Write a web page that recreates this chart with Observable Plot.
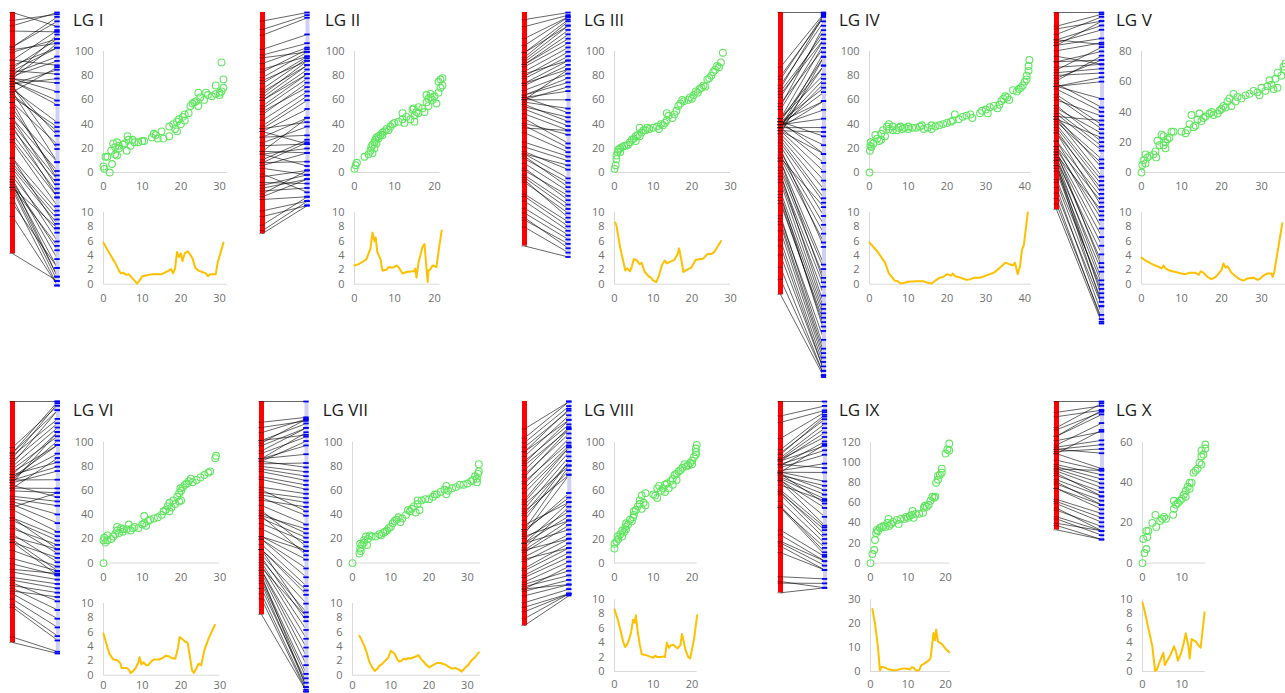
<!DOCTYPE html>
<html><head><meta charset="utf-8">
<script src="https://cdn.jsdelivr.net/npm/d3@7"></script>
<script src="https://cdn.jsdelivr.net/npm/@observablehq/plot@0.6"></script>
<style>
html,body{margin:0;padding:0;background:#fff;width:1285px;height:693px;overflow:hidden;}
#root{position:relative;width:1285px;height:693px;font-family:"Open Sans",sans-serif;overflow:hidden;}
.title{position:absolute;font-size:17px;line-height:17px;color:#1a1a1a;white-space:nowrap;}
</style></head><body><div id="root"></div>
<script>
// ---------- DATA: [genetic position (cM), physical position (Mb)] ----------
const mapI = [[0,5],[0.2,3],[0.5,13],[1,13],[1.6,0],[2.2,7],[2,18],[2.5,24],[3,21],[3,15],[3.5,14],[3.5,25],[4,20],[4,22],[5,23],[5.5,24],[6,18],[6.2,30],[6.5,27],[7,22],[7.5,27],[8,25],[9,25],[10,26],[10.5,26],[12.5,29],[13,32],[13.5,31],[14,28],[15,34],[15.5,28],[17,30],[17,38],[18,40],[18.5,36],[19,34],[19,42],[19.5,44],[20,40],[20.5,46],[21,48],[21,43],[22,49],[22.5,55],[23,57],[23.5,58],[24,59],[24.5,55],[24.5,66],[25,62],[26,60],[26.5,66],[27,64],[28,63],[29,65],[29,72],[30,64],[30,66],[30.5,67],[30.5,91],[31,77],[31,70]];
const mapII = [[0,3],[0.3,6],[0.6,8],[2.5,13],[3.5,15],[4,18],[4.2,21],[4.5,16],[4.5,23],[5,25],[5,20],[5.2,27],[5.5,24],[5.5,29],[6,28],[6,30],[6.5,31],[7,31],[7,33],[7.5,34],[8,36],[8.5,35],[9,38],[9.5,40],[10,41],[11,42],[12,44],[12,49],[12.5,41],[13,46],[14,44],[14.5,52],[14.8,53],[15,47],[15,42],[15.5,50],[16,54],[16,49],[17,53],[17.5,50],[18,64],[18,58],[18.5,61],[18.5,55],[19,65],[19,62],[19.5,60],[20,63],[20.5,57],[21,66],[21,75],[21.5,77],[21.5,70],[22,72],[22,78]];
const mapIII = [[0,3],[0.3,6],[0.5,11],[0.5,14],[0.8,17],[1,19],[1.5,17],[1.5,20],[2,21],[2.5,22],[3,22],[3.5,23],[4,25],[4.5,27],[5,28],[5.5,30],[5.5,26],[6,31],[6.5,37],[6.5,30],[7,33],[7.5,35],[8,35],[8.5,37],[9,36],[10,37],[11,38],[11.5,36],[12,40],[12.5,39],[13,41],[13.5,49],[13.5,43],[14,47],[15,45],[15.5,48],[16,51],[16.5,55],[17,57],[17.5,60],[18,59],[19,60],[19.5,62],[20,61],[20.5,64],[21,67],[21.5,66],[22,69],[22.5,70],[23,72],[23.5,71],[24,77],[24.5,78],[25,80],[25.5,83],[26,85],[26.5,88],[27,87],[27.5,91],[28,99]];
const mapIV = [[0,0],[0.1,18],[0.2,22],[0.3,25],[0.5,21],[1,24],[1.5,31],[2,28],[2.5,26],[3,32],[3,27],[3.5,35],[4,30],[4.5,38],[5,40],[5,36],[6,38],[6,35],[7,35],[7.5,37],[8,38],[8.5,36],[9,37],[10,36],[10,38],[11,37],[12,37],[13,38],[13.5,39],[14,36],[15,37],[16,39],[16,36],[17,38],[18,39],[19,40],[20,41],[21,42],[21.5,43],[22,48],[23,44],[24,46],[25,47],[26,48],[26.5,45],[28.5,49],[29,51],[30,52],[30.5,49],[31,54],[32,55],[33,53],[33.5,56],[34,59],[34.5,61],[35,63],[35.5,62],[36,60],[37,68],[38,67],[38.5,69],[39,70],[39.5,72],[40,75],[40.5,77],[40.5,80],[41,84],[41,88],[41.2,93]];
const mapV = [[0,0],[0.2,5],[0.5,8],[1,12],[1,6],[1.5,10],[2,11],[3,12],[3.5,14],[3.7,10],[4,21],[4.5,18],[5,25],[5.5,24],[5.5,18],[6,20],[6,16],[6.5,22],[7,23],[7.5,27],[8,27],[10,27],[11,26],[11.5,28],[12,32],[12.5,38],[13,30],[13.5,31],[14,35],[14.5,39],[15,34],[15.5,36],[16,37],[17,39],[17.5,40],[18,38],[19,39],[19.5,41],[20,42],[20.5,44],[21,43],[21.5,47],[22,49],[22.5,44],[23,52],[23.5,47],[24,50],[25,49],[26,51],[27,52],[28,54],[29,53],[29.5,51],[30,56],[31,54],[31.5,57],[32,61],[32.5,58],[33,55],[33.5,62],[34,66],[34,56],[35,64],[35.8,68],[35.5,70],[36,72]];
const mapVI = [[0,0],[0,19],[0.2,21],[0.5,17],[1,19],[1,23],[2,20],[2.5,22],[3,24],[3.5,30],[3.5,27],[4,25],[4.5,29],[5,26],[5,28],[6,28],[6.5,32],[7,27],[7.5,29],[8,30],[9,29],[10,32],[10.5,39],[10.5,33],[11,31],[11.5,35],[12,36],[13,37],[14,38],[15,40],[15.5,43],[16,44],[16.5,47],[17,50],[17,43],[17.5,46],[18,52],[18.5,49],[19,55],[19.5,51],[19.5,58],[19.8,62],[20,60],[20,52],[20.5,63],[21,65],[21.5,66],[22,68],[22.5,70],[23,67],[24,69],[25,71],[26,73],[27,75],[27.5,76],[28.8,87],[29,89]];
const mapVII = [[0,0],[1.8,8],[2,12],[2,16],[2.2,10],[2.5,15],[3,17],[3,19],[3.5,22],[3.8,15],[4,20],[4.5,23],[5,22],[6,22],[7,24],[7.5,23],[8,25],[8.5,26],[9,27],[9.5,29],[10,30],[10.5,33],[11,35],[11.5,36],[12,38],[12.5,34],[13,37],[14,40],[14.5,44],[15,43],[15.5,45],[16,47],[16.5,42],[17,49],[17,52],[17.5,44],[18,52],[19,53],[20,53],[21,55],[21.5,57],[22,57],[23,59],[24,61],[24.5,64],[24.5,57],[25,60],[26,62],[27,63],[28,65],[29,65],[30,66],[31,68],[31.5,69],[32,72],[32.5,70],[32.5,67],[32.8,74],[33,76],[33,82]];
const mapVIII = [[0,12],[0,16],[0.5,18],[0.8,22],[1,20],[1.5,24],[2,22],[2,27],[2.5,26],[2.8,30],[3,33],[3,28],[3.5,32],[4,36],[4.5,35],[4.8,38],[5,43],[5,40],[5.5,44],[6,47],[6.5,49],[6.5,52],[7,56],[7,45],[7.5,50],[8,58],[8,48],[10,57],[10.5,56],[11,54],[11,62],[11.5,64],[12,60],[12.5,62],[13,59],[13,65],[13.5,66],[14,62],[14.5,68],[15,70],[15,65],[15.5,73],[16,74],[16,69],[16.5,76],[17,77],[17.5,79],[18,82],[18.5,80],[19,81],[19.5,83],[20,85],[20,82],[20.5,88],[21,90],[21,95],[21.2,98],[21,92]];
const mapIX = [[0,0],[0.5,9],[1,13],[1.2,23],[1.5,30],[1.7,33],[2,32],[2.5,35],[3,36],[3.5,37],[4,36],[4.5,40],[4.8,44],[5,37],[5.5,39],[6,41],[7,43],[7.5,39],[8,44],[9,44],[9.5,46],[10,45],[10.5,47],[11,48],[11.2,52],[11.5,45],[12,49],[13,49],[14,50],[14.2,55],[14.5,57],[15,56],[15.5,58],[16,62],[16.5,66],[17,65],[17.3,66],[17.5,80],[18,83],[18,87],[18.5,88],[19,94],[19,90],[20,109],[20.5,113],[21,112],[21,119]];
const mapX = [[0,0],[0.2,12],[0.5,5],[1,16],[1,7],[1.2,13],[1.5,16],[2.5,20],[3.3,24],[3.5,18],[4.5,21],[5,22],[5.5,23],[6,22],[7.8,24],[8,27],[8,31],[8.5,29],[9,30],[9.5,31],[10,32],[10.5,34],[11,33],[11,36],[11.5,38],[12,40],[12,37],[12.5,40],[13,45],[13.5,46],[14,47],[14.5,50],[15,49],[15,53],[15,56],[15.5,54],[16,57],[16,59]];

// ---------- DATA: [genetic position (cM), rate] ----------
const rateI = [[0,5.8],[1,4.8],[2,3.9],[3,3.0],[4,1.9],[4.5,1.5],[5,1.6],[6,1.3],[6.5,1.4],[7.5,0.8],[8.2,0.4],[8.7,0.1],[9.3,0.5],[10,1.1],[11,1.2],[12.5,1.4],[15,1.4],[16.5,1.8],[17.5,2.1],[18,1.5],[18.5,2.2],[19,4.5],[19.5,3.8],[20,4.3],[20.4,3.2],[21,4.3],[21.8,4.6],[22.3,4.2],[23,3.6],[23.7,2.3],[24.5,1.9],[25.5,1.7],[26.5,1.5],[27,1.1],[27.6,1.4],[29,1.4],[29.5,3.0],[31,5.8]];
const rateII = [[0,2.6],[1,2.8],[2,3.1],[3,3.5],[4,5.0],[4.5,7.2],[5,6.0],[5.3,6.5],[5.7,4.5],[6.5,3.5],[7,1.9],[8,2.0],[8.5,2.4],[9.5,2.3],[10.5,2.6],[11,2.4],[12,1.5],[13,1.7],[14.5,1.8],[15,1.8],[15.2,2.2],[15.5,0.9],[16,3.0],[17,5.2],[17.5,5.6],[18,2.2],[18.3,0.3],[18.5,1.9],[19,2.1],[19.5,2.6],[20.5,2.4],[21,4.5],[21.8,7.5]];
const rateIII = [[0.2,8.6],[0.5,8.2],[1.5,5.0],[2.8,1.9],[3.3,2.2],[4,1.8],[4.5,2.5],[5,3.5],[5.8,3.3],[6.5,2.8],[7,3.0],[7.8,1.7],[9,1.0],[9.5,0.9],[10,0.5],[10.8,0.3],[11.5,1.2],[12.3,2.7],[13,3.3],[13.5,2.9],[14.3,3.1],[15.5,3.4],[16.3,4.2],[16.7,5.0],[17.3,3.3],[17.8,1.7],[19,2.1],[19.8,2.3],[21,3.4],[22.5,3.5],[23,3.6],[24,4.2],[25,4.2],[25.8,4.5],[27.5,6.0]];
const rateIV = [[0,5.8],[2,4.6],[4,3.0],[5,1.5],[6.5,0.5],[7.3,0.4],[8,0.1],[9,0.2],[10,0.35],[12,0.4],[14,0.4],[15,0.2],[16,0.1],[17,0.5],[18,0.9],[19,1.0],[20,1.4],[21,1.2],[21.5,1.5],[22,1.1],[23,1.0],[24,0.8],[25,0.6],[26,0.7],[27,0.9],[28.5,0.9],[30,1.2],[32,1.6],[33,2.0],[34,2.5],[35,3.0],[36,2.8],[37,2.6],[37.5,3.0],[38.2,1.4],[38.8,2.5],[39.3,4.8],[39.8,5.5],[40.8,10]];
const rateV = [[0,3.7],[1,3.3],[2,3.0],[3,2.7],[4,2.5],[5,2.2],[5.5,2.6],[6,2.2],[7,1.9],[8.5,1.7],[10,1.5],[11,1.4],[12,1.6],[13.5,1.6],[14.3,1.3],[14.8,1.8],[15.5,1.6],[16.5,1.0],[17.5,0.7],[18.5,1.0],[19,1.3],[20,2.0],[20.5,2.9],[21,2.3],[21.5,2.5],[22.5,1.6],[23.5,1.1],[24.5,0.7],[25.5,0.5],[26.5,0.8],[28,0.9],[29,0.6],[29.5,0.7],[30.5,1.2],[31.5,1.5],[32.5,1.5],[32.8,1.0],[33.2,1.7],[35.2,8.5]];
const rateVI = [[0,5.8],[0.7,4.5],[1.5,3.0],[2.5,2.2],[3.5,2.1],[4.3,1.7],[4.7,1.0],[5.5,1.0],[6,1.0],[6.5,0.8],[7,0.3],[7.5,0.5],[8.3,1.0],[9,1.8],[9.3,2.5],[9.8,1.5],[10.3,1.8],[11,1.4],[11.5,1.4],[12.3,1.9],[13,2.2],[14.5,2.2],[15.5,2.5],[16,2.7],[17,2.6],[17.5,2.4],[18.5,2.3],[19.2,3.8],[19.6,5.3],[20.2,5.1],[21,4.7],[21.7,4.5],[22.3,2.5],[22.8,0.7],[23.3,0.3],[24,1.0],[24.5,1.6],[25.2,1.4],[26,3.5],[27,5.0],[28.7,7.0]];
const rateVII = [[1.8,5.5],[2.3,5.0],[3,4.2],[3.8,3.0],[4.3,2.0],[5,1.2],[5.8,0.6],[6.5,0.9],[7,1.3],[7.8,1.6],[8.5,2.0],[9.3,2.4],[10,3.4],[10.5,3.2],[11,3.0],[11.7,2.2],[12.2,1.9],[12.8,2.0],[13.3,2.3],[14,2.2],[14.5,2.4],[15,2.3],[16.5,2.6],[17.2,2.8],[18,2.2],[19,1.6],[20,1.1],[21,1.4],[22,1.7],[23,1.7],[24.5,1.4],[25,1.2],[26,0.9],[27,1.0],[28,0.7],[28.5,0.5],[29.5,1.1],[30.2,1.4],[31,2.0],[32,2.5],[33,3.2]];
const rateVIII = [[0,8.6],[0.8,7.3],[1.5,5.8],[2.3,4.0],[2.8,3.4],[3.3,3.8],[3.8,4.5],[4.3,5.5],[4.8,7.2],[5.2,6.8],[5.5,7.8],[6,5.5],[6.5,3.8],[7,2.4],[8,2.3],[9,2.1],[10,1.9],[10.5,2.2],[11,2.0],[12,2.0],[12.5,2.1],[13,2.0],[13.5,4.0],[14,3.3],[14.5,3.6],[15.2,3.7],[15.8,3.4],[16.3,3.2],[17,3.7],[17.4,5.2],[17.8,4.3],[18.3,3.0],[19,2.0],[19.5,1.8],[20.5,4.5],[21.3,7.8]];
const rateIX = [[0.5,26],[1.2,20],[2,10],[2.5,0.5],[3,2],[4,1.5],[5,0.8],[6,0.5],[7,0.6],[8,1.0],[9,1.3],[10,1.0],[10.5,0.8],[11,1.8],[11.5,1.6],[12,0.6],[12.5,0.4],[13,0.6],[13.5,2.5],[14.5,3.5],[15.5,4.5],[16,5.5],[16.8,16],[17.2,13],[17.5,17.5],[18,12.5],[19,11.5],[20,9.5],[21,8]];
const rateX = [[0,9.6],[0.5,8.5],[1.5,6.0],[2.5,3.5],[3.2,0.1],[3.6,0.2],[4.5,1.5],[5.3,2.6],[5.7,0.9],[6.5,1.7],[7.3,2.5],[8,3.5],[8.5,2.8],[9,1.5],[9.8,2.5],[10.5,4.0],[11,5.3],[11.7,3.5],[12,1.8],[12.5,4.5],[13.5,4.2],[14.3,3.6],[14.8,3.3],[15.3,5.7],[15.8,8.2]];

// ---------- tick labels ----------
const groupNames = ["LG I","LG II","LG III","LG IV","LG V","LG VI","LG VII","LG VIII","LG IX","LG X"];
const ticks10 = [0,10], ticks20 = [0,10,20], ticks30 = [0,10,20,30], ticks40 = [0,10,20,30,40];
const yTicks100 = [0,20,40,60,80,100], yTicks80 = [0,20,40,60,80], yTicks120 = [0,20,40,60,80,100,120], yTicks60 = [0,20,40,60];
const rTicks10 = [0,2,4,6,8,10], rTicks30 = [0,10,20,30];

// ---------- layout (pixels) ----------
const R1 = {title:10.5, sy:[171.5,50.5], ry:[283.7,212], rpad:10, top:12};
const R2 = {title:400.5, sy:[562.3,441.7], ry:[675,603.3], rpad:6, top:401};
const R2b = {title:400.5, sy:[562.3,441.7], ry:[670.5,598.5], rpad:9, top:401};
const panels = [
 {map:mapI,   rate:rateI,   xt:ticks30, yt:yTicks100, rt:rTicks10, ymax:100, rmax:10, xmax:32,   sx0:103,   ppu:3.87, row:R1, tx:73,    red:[12,253],     blue:[57,285]},
 {map:mapII,  rate:rateII,  xt:ticks20, yt:yTicks100, rt:rTicks10, ymax:100, rmax:10, xmax:21.4, sx0:354,   ppu:4.0,  row:R1, tx:325,   red:[262,233],    blue:[307,205]},
 {map:mapIII, rate:rateIII, xt:ticks30, yt:yTicks100, rt:rTicks10, ymax:100, rmax:10, xmax:30,   sx0:614.3, ppu:3.87, row:R1, tx:584,   red:[524,245.5],  blue:[568,256.5]},
 {map:mapIV,  rate:rateIV,  xt:ticks40, yt:yTicks100, rt:rTicks10, ymax:100, rmax:10, xmax:41.6, sx0:869.3, ppu:3.88, row:R1, tx:839,   red:[779.5,294],  blue:[823,376.5]},
 {map:mapV,   rate:rateV,   xt:ticks30, yt:yTicks80,  rt:rTicks10, ymax:80,  rmax:10, xmax:36,   sx0:1140.7,ppu:4.0,  row:R1, tx:1116,  red:[1055.5,209], blue:[1101,323]},
 {map:mapVI,  rate:rateVI,  xt:ticks30, yt:yTicks100, rt:rTicks10, ymax:100, rmax:10, xmax:30,   sx0:102.7, ppu:3.88, row:R2, tx:73,    red:[12,642],     blue:[57.3,653]},
 {map:mapVII, rate:rateVII, xt:ticks30, yt:yTicks100, rt:rTicks10, ymax:100, rmax:10, xmax:33.5, sx0:352.3, ppu:3.83, row:R2, tx:322.7, red:[261,614],    blue:[306,691]},
 {map:mapVIII,rate:rateVIII,xt:ticks20, yt:yTicks100, rt:rTicks10, ymax:100, rmax:10, xmax:21.3, sx0:614,   ppu:3.88, row:R2b,tx:584,   red:[523.5,625],  blue:[568.3,595]},
 {map:mapIX,  rate:rateIX,  xt:ticks20, yt:yTicks120, rt:rTicks30, ymax:120, rmax:30, xmax:21.3, sx0:870,   ppu:3.75, row:R2b,tx:839,   red:[779.5,592.3],blue:[824,587.3]},
 {map:mapX,   rate:rateX,   xt:ticks10, yt:yTicks60,  rt:rTicks10, ymax:60,  rmax:10, xmax:16,   sx0:1141.7,ppu:3.93, row:R2b,tx:1116,  red:[1055.5,529.3],blue:[1101,539]}
];

const root = document.getElementById("root");
const axisStyle = {fontFamily:'"Open Sans", sans-serif', fontSize:"11px", color:"#707070", background:"transparent", overflow:"visible"};
function place(node, left, top) {
  node.style.position = "absolute";
  node.style.left = left + "px";
  node.style.top = top + "px";
  root.appendChild(node);
}

function xyChart(p, yDomMax, yTicks, yPx, xPad, marks) {
  const ml = 34, mr = 6, mt = 8, mb = 24;
  const len = p.xmax * p.ppu, h = yPx[0] - yPx[1];
  const chart = Plot.plot({
    width: ml + len + mr, height: mt + h + mb,
    marginLeft: ml, marginRight: mr, marginTop: mt, marginBottom: mb,
    style: axisStyle,
    x: {domain: [0, p.xmax], ticks: p.xt, tickSize: 0, tickPadding: xPad, label: null, tickFormat: d => String(d)},
    y: {domain: [0, yDomMax], ticks: yTicks, tickSize: 0, tickPadding: 10, label: null, tickFormat: d => String(d)},
    marks: [
      Plot.ruleY([0], {stroke: "#d9d9d9", strokeWidth: 1}),
      Plot.ruleX([0], {stroke: "#d9d9d9", strokeWidth: 1}),
      ...marks
    ]
  });
  place(chart, p.sx0 - ml, yPx[1] - mt);
}

function linkChart(p) {
  const top = p.row.top;
  const [rx, rBot] = p.red, [bx, bBot] = p.blue;
  const gmax = d3.max(p.map, d => d[0]), pmax = d3.max(p.map, d => d[1]);
  const rLen = rBot - top, bLen = bBot - top;
  const H = Math.max(rLen, bLen);
  const left = rx - 6, W = bx - left + 6;
  const redY = d => d[1] / pmax * rLen;
  const blueY = d => d[0] / gmax * bLen;
  const chart = Plot.plot({
    width: W, height: H + 4, margin: 0,
    x: {domain: [0, 1], range: [rx - left, bx - left], axis: null},
    y: {domain: [0, H], range: [2, 2 + H], axis: null},
    marks: [
      Plot.link(p.map, {x1: () => 0, x2: () => 1, y1: redY, y2: blueY, stroke: "#000", strokeOpacity: 0.75, strokeWidth: 0.8}),
      Plot.ruleX([0], {y1: () => 0, y2: () => rLen, stroke: "#ff0000", strokeWidth: 5}),
      Plot.ruleY(p.map, {y: redY, x1: () => -0.06, x2: () => 0.06, stroke: "#300000", strokeOpacity: 0.6, strokeWidth: 0.8}),
      Plot.ruleX([1], {y1: () => 0, y2: () => bLen, stroke: "#d0d0f4", strokeWidth: 4}),
      Plot.ruleY(p.map, {y: blueY, x1: () => 0.94, x2: () => 1.06, stroke: "#0000ff", strokeWidth: 1.8})
    ]
  });
  place(chart, left, top - 2);
}

panels.forEach((p, i) => {
  linkChart(p);
  xyChart(p, p.ymax, p.yt, p.row.sy, 10, [
    Plot.dot(p.map, {x: d => d[0], y: d => d[1], r: 3.4, stroke: "#5fe65f", strokeWidth: 1.1, fill: "none"})
  ]);
  xyChart(p, p.rmax, p.rt, p.row.ry, p.row.rpad, [
    Plot.line(p.rate, {x: d => d[0], y: d => d[1], stroke: "#ffc000", strokeWidth: 2})
  ]);
  const t = document.createElement("div");
  t.className = "title";
  t.textContent = groupNames[i];
  t.style.left = p.tx + "px";
  t.style.top = p.row.title + "px";
  root.appendChild(t);
});
</script>
</body></html>
